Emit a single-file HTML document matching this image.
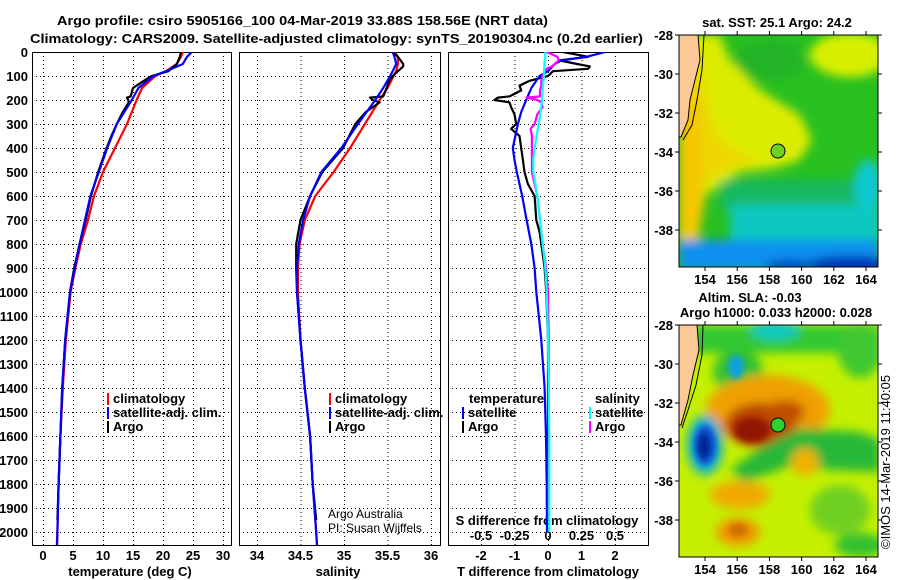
<!DOCTYPE html>
<html><head><meta charset="utf-8"><style>
html,body{margin:0;padding:0;background:#fff;}
svg{display:block;font-family:"Liberation Sans",sans-serif;}
.b{font-weight:bold;font-size:13px;fill:#000;}
.n{font-size:12px;fill:#000;}
</style></head><body>
<svg id="chart" width="900" height="580" viewBox="0 0 900 580" xmlns="http://www.w3.org/2000/svg">
<defs>
<clipPath id="c1"><rect x="32" y="52" width="199" height="493"/></clipPath>
<clipPath id="c2"><rect x="239" y="52" width="201" height="493"/></clipPath>
<clipPath id="c3"><rect x="448" y="52" width="200" height="493"/></clipPath>
<clipPath id="m1"><rect x="679" y="35" width="199" height="232"/></clipPath>
<clipPath id="m2"><rect x="679" y="325" width="199" height="232"/></clipPath>
<filter id="bl" x="-20%" y="-20%" width="140%" height="140%"><feGaussianBlur stdDeviation="5"/></filter>
<filter id="bl2" x="-20%" y="-20%" width="140%" height="140%"><feGaussianBlur stdDeviation="3"/></filter>
</defs>
<text class="b" x="57" y="25" textLength="491" lengthAdjust="spacingAndGlyphs">Argo profile: csiro 5905166_100 04-Mar-2019 33.88S 158.56E (NRT data)</text>
<text class="b" x="30" y="43" textLength="613" lengthAdjust="spacingAndGlyphs">Climatology: CARS2009. Satellite-adjusted climatology: synTS_20190304.nc (0.2d earlier)</text>

<!-- top map -->
<g>
<g clip-path="url(#m1)">
<rect x="679" y="35" width="199" height="232" fill="#28c020"/>
<g filter="url(#bl)">
<ellipse cx="850" cy="55" rx="40" ry="22" fill="#d8f000"/>
<polygon points="690,35 720,35 730,60 760,90 800,115 812,140 800,160 775,168 740,172 720,185 700,200 690,240 679,240 679,35" fill="#dcec00"/>
<polygon points="679,60 700,60 715,130 735,150 760,162 730,168 700,185 695,240 679,240" fill="#ecd800"/>
<polygon points="679,100 700,100 705,200 698,240 679,240" fill="#f4c800"/>
<ellipse cx="770" cy="60" rx="35" ry="20" fill="#20b428"/>
<rect x="720" y="180" width="160" height="30" fill="#18b860"/>
<rect x="730" y="205" width="150" height="35" fill="#10c8c0"/>
<ellipse cx="868" cy="185" rx="14" ry="25" fill="#10c8d0"/>
<rect x="679" y="240" width="200" height="30" fill="#1090f0"/>
<ellipse cx="850" cy="266" rx="45" ry="10" fill="#0030b0"/>
<ellipse cx="790" cy="266" rx="25" ry="6" fill="#0040c0"/>
</g>
<polygon points="679,35 698,35 700,60 695,80 690,100 688,120 681,137 679,137" fill="#fcc898" stroke="#000" stroke-width="1"/>
<polyline points="704,35 702,70 697,100 692,125 683,140" fill="none" stroke="#000" stroke-width="1"/>
<circle cx="778" cy="151" r="7" fill="#70d020" stroke="#000" stroke-width="1"/>
</g>
<rect x="679" y="35" width="199" height="232" fill="none" stroke="#000" stroke-width="1"/>
</g>
<text class="b" x="777" y="27" text-anchor="middle">sat. SST: 25.1 Argo: 24.2</text>

<!-- bottom map -->
<g>
<g clip-path="url(#m2)">
<rect x="679" y="325" width="199" height="232" fill="#c4f000"/>
<g filter="url(#bl)">
<rect x="690" y="325" width="190" height="28" fill="#30c830"/>
<ellipse cx="775" cy="330" rx="25" ry="10" fill="#10c8c0"/>
<ellipse cx="738" cy="372" rx="25" ry="22" fill="#30c030"/>
<ellipse cx="860" cy="350" rx="22" ry="28" fill="#40c830"/>
<ellipse cx="768" cy="410" rx="62" ry="35" fill="#f0a000"/>
<ellipse cx="760" cy="425" rx="35" ry="22" fill="#b84000"/>
<ellipse cx="785" cy="412" rx="20" ry="12" fill="#c05000"/>
<polygon points="730,470 760,448 800,428 860,432 880,440 880,472 830,470 790,466 745,482" fill="#28b838"/>
<ellipse cx="705" cy="445" rx="18" ry="30" fill="#10b0d0"/>
<ellipse cx="740" cy="495" rx="30" ry="14" fill="#f0a800"/>
<ellipse cx="738" cy="532" rx="22" ry="14" fill="#f09800"/>
<ellipse cx="805" cy="462" rx="14" ry="14" fill="#f0b000"/>
<ellipse cx="840" cy="510" rx="30" ry="25" fill="#70d020"/>
<ellipse cx="860" cy="545" rx="25" ry="12" fill="#30c030"/>
</g>
<g filter="url(#bl2)">
<ellipse cx="736" cy="367" rx="8" ry="12" fill="#10a0e0"/>
<ellipse cx="705" cy="445" rx="11" ry="20" fill="#1050d0"/>
<ellipse cx="704" cy="446" rx="6" ry="13" fill="#002090"/>
<ellipse cx="752" cy="430" rx="18" ry="12" fill="#901800"/>
<ellipse cx="738" cy="530" rx="10" ry="7" fill="#d07000"/>
</g>
<polygon points="679,325 697,325 699,350 693,375 688,400 681,425 679,425" fill="#fcc898" stroke="#000" stroke-width="1"/>
<polyline points="703,325 702,355 696,385 688,410 682,428" fill="none" stroke="#000" stroke-width="1"/>
<circle cx="778" cy="425" r="7" fill="#30d030" stroke="#000" stroke-width="1"/>
</g>
<rect x="679" y="325" width="199" height="232" fill="none" stroke="#000" stroke-width="1"/>
</g>
<text class="b" x="750" y="302" text-anchor="middle">Altim. SLA: -0.03</text>
<text class="b" x="776" y="317" text-anchor="middle">Argo h1000: 0.033 h2000: 0.028</text>
<text x="0" y="0" font-size="13" transform="translate(890,549) rotate(-90)">©IMOS 14-Mar-2019 11:40:05</text>
<g id="layer"></g>
</svg>
<script>
// ---- data ----
const depthTicks = [0,100,200,300,400,500,600,700,800,900,1000,1100,1200,1300,1400,1500,1600,1700,1800,1900,2000];
const tempTicks = [0,5,10,15,20,25,30];
const salTicks = [34,34.5,35,35.5,36];
const salTickLabels = ["34","34.5","35","35.5","36"];
const tDiffTicks = [-2,-1,0,1,2];
const sDiffTicks = [-0.5,-0.25,0,0.25,0.5];
const sDiffTickLabels = ["-0.5","-0.25","0","0.25","0.5"];
const latTicks = [-28,-30,-32,-34,-36,-38];
const lonTicks = [154,156,158,160,162,164];

const climDepth = [0,20,50,80,100,150,200,300,400,500,600,700,800,900,1000,1200,1400,1600,1800,2000,2055];
const tempClim = [23.3,23.0,22.3,20.5,18.7,16.5,15.6,14,12,10,8.5,7.5,6.3,5.4,4.6,3.8,3.3,2.9,2.6,2.4,2.3];
const tempSat = [24.8,24.0,23.3,20.5,18.4,15.9,14.8,12.3,10.7,9.3,7.9,7.0,6.1,5.3,4.5,3.7,3.2,2.9,2.6,2.4,2.35];
const salClim = [35.58,35.62,35.62,35.6,35.57,35.5,35.41,35.24,35.07,34.88,34.67,34.55,34.49,34.47,34.47,34.5,34.55,34.61,34.64,34.68,34.69];
const salSat = [35.56,35.58,35.6,35.56,35.53,35.45,35.36,35.16,34.97,34.74,34.61,34.53,34.48,34.46,34.46,34.5,34.55,34.61,34.64,34.68,34.69];

const argoDepth = [0,20,50,60,80,100,120,150,185,190,200,210,250,300,350,400,500,600,700,800,900,1000,1200,1400,1600,1800,1950];
const tempArgo = [23.0,22.8,22.3,21.8,20.9,18.1,16.8,15.0,14.6,14.0,14.2,14.3,13.3,12.3,11.4,10.6,9.2,8.0,7.1,6.1,5.2,4.5,3.7,3.2,2.9,2.6,2.4];
const salArgo = [35.56,35.62,35.68,35.68,35.62,35.56,35.52,35.49,35.45,35.3,35.33,35.41,35.25,35.13,35.06,34.99,34.75,34.61,34.5,34.45,34.45,34.46,34.5,34.55,34.61,34.64,34.68];

const diffDepth = [0,20,35,50,60,70,80,100,120,140,160,185,190,200,210,230,260,300,320,350,400,450,500,550,600,700,750,800,900,1000,1200,1400,1600,1800,1950];
const tDiffArgo = [0.45,1.2,0.35,0.87,1.25,1.2,0.15,0,-0.55,-0.85,-0.8,-1.15,-1.5,-1.6,-1.15,-1.1,-1.0,-0.95,-1.1,-0.85,-0.8,-0.75,-0.7,-0.6,-0.4,-0.35,-0.25,-0.2,-0.1,-0.05,0,0,0,0,0];
const sDiffArgo = [-0.01,0.07,0.08,0.05,0.03,-0.01,-0.02,-0.04,-0.05,-0.05,-0.06,-0.06,-0.16,-0.08,-0.05,-0.04,-0.08,-0.1,-0.13,-0.12,-0.12,-0.12,-0.12,-0.1,-0.08,-0.06,-0.05,-0.04,-0.015,0,0.005,0.005,0.005,0.005,0.005];
const satDepth = [0,20,35,50,80,100,150,200,250,300,400,450,500,600,700,800,900,1000,1200,1400,1600,1800,2000];
const tDiffSat = [1.7,1.15,0.4,0.2,0,-0.25,-0.5,-0.65,-0.8,-0.9,-1.05,-1.0,-0.93,-0.77,-0.64,-0.5,-0.4,-0.35,-0.2,-0.1,-0.06,-0.04,-0.03];
const sDiffSat = [-0.02,-0.02,-0.025,-0.025,-0.03,-0.03,-0.04,-0.045,-0.055,-0.07,-0.1,-0.11,-0.11,-0.08,-0.06,-0.04,-0.02,-0.01,0,0.005,0.01,0.01,0.01];

// ---- scales ----
const NS = "http://www.w3.org/2000/svg";
const layer = document.getElementById('layer');
const yD = d => 52 + d * 0.24;
const xT = t => 43 + 6 * t;
const xS = s => 257 + 87 * (s - 34);
const xDT = t => 548 + 33.5 * t;
const xDS = s => 548 + 134 * s;
const yLat = la => 35 + (-28 - la) * 19.5;
const yLat2 = la => 325 + (-28 - la) * 19.5;
const xLon = lo => 705 + (lo - 154) * 16.1;

function mk(tag, attrs, parent) {
  const e = document.createElementNS(NS, tag);
  for (const k in attrs) e.setAttribute(k, attrs[k]);
  (parent || layer).appendChild(e);
  return e;
}
function txt(x, y, s, anchor, cls, parent) {
  const t = mk('text', {x: x, y: y, 'text-anchor': anchor || 'start', class: cls || 'b'}, parent);
  t.textContent = s;
  return t;
}
function panel(x0, x1, name, clip, gridXs) {
  const g = mk('g', {});
  
  
  const grid = mk('g', {stroke: '#000', 'stroke-width': 1, 'stroke-dasharray': '1,3', 'clip-path': clip}, g);
  depthTicks.forEach(d => { if (d > 0) mk('line', {x1: x0, x2: x1, y1: yD(d) + 0.5, y2: yD(d) + 0.5}, grid); });
  gridXs.forEach(x => mk('line', {x1: x + 0.5, x2: x + 0.5, y1: 52, y2: 545}, grid));
  mk('rect', {x: x0 + 0.5, y: 52.5, width: x1 - x0, height: 493, fill: 'none', stroke: '#000', 'stroke-width': 1}, g);
  return g;
}
function line(g, xs, ds, xf, color, name, clip) {
  const pts = xs.map((v, i) => xf(v).toFixed(1) + ',' + yD(ds[i]).toFixed(1)).join(' ');
  const p = mk('polyline', {points: pts, fill: 'none', stroke: color, 'stroke-width': 2.2, 'stroke-linejoin': 'round', 'clip-path': clip}, g);
  
  
  return p;
}
function legendItem(g, x, y, color, label) {
  const r = mk('rect', {x: x, y: y - 10, width: 2, height: 12, fill: color}, g);
  
  
  const t = txt(x + 6, y, label, 'start', 'b', g);
  
  
}

// depth axis labels
const yAxis = mk('g', {});


depthTicks.forEach(d => {
  const t = txt(28, yD(d) + 5, String(d), 'end', 'b', yAxis);
  
  
});

// Panel 1: temperature
const p1 = panel(32, 231, 'temperature-panel', 'url(#c1)', tempTicks.map(xT));
tempTicks.forEach(t => {
  const l = txt(xT(t), 560, String(t), 'middle', 'b', p1);
  
  
});
const at1 = txt(130, 576, 'temperature (deg C)', 'middle', 'b', p1);


line(p1, tempClim, climDepth, xT, '#ff0000', 'temperature-climatology-line', 'url(#c1)');
line(p1, tempArgo, argoDepth, xT, '#000000', 'temperature-argo-line', 'url(#c1)');
line(p1, tempSat, climDepth, xT, '#0000ff', 'temperature-satellite-line', 'url(#c1)');
legendItem(p1, 107, 403, '#ff0000', 'climatology');
legendItem(p1, 107, 417, '#0000ff', 'satellite-adj. clim.');
legendItem(p1, 107, 431, '#000000', 'Argo');

// Panel 2: salinity
const p2 = panel(239, 440, 'salinity-panel', 'url(#c2)', salTicks.map(xS));
salTicks.forEach((s, i) => {
  const l = txt(xS(s), 560, salTickLabels[i], 'middle', 'b', p2);
  
  
});
const at2 = txt(338, 576, 'salinity', 'middle', 'b', p2);


line(p2, salClim, climDepth, xS, '#ff0000', 'salinity-climatology-line', 'url(#c2)');
line(p2, salArgo, argoDepth, xS, '#000000', 'salinity-argo-line', 'url(#c2)');
line(p2, salSat, climDepth, xS, '#0000ff', 'salinity-satellite-line', 'url(#c2)');
legendItem(p2, 329, 403, '#ff0000', 'climatology');
legendItem(p2, 329, 417, '#0000ff', 'satellite-adj. clim.');
legendItem(p2, 329, 431, '#000000', 'Argo');
const cr1 = txt(328, 518, 'Argo Australia', 'start', 'n', p2);


const cr2 = txt(328, 532, 'PI: Susan Wijffels', 'start', 'n', p2);



// Panel 3: differences
const p3 = panel(448, 648, 'difference-panel', 'url(#c3)', tDiffTicks.map(xDT));
tDiffTicks.forEach(t => {
  const l = txt(xDT(t), 560, String(t), 'middle', 'b', p3);
  
  
});
sDiffTicks.forEach((s, i) => {
  const l = txt(xDS(s), 540, sDiffTickLabels[i], 'middle', 'b', p3);
  
  
});
const at3 = txt(548, 576, 'T difference from climatology', 'middle', 'b', p3);


const at4 = txt(547, 525, 'S difference from climatology', 'middle', 'b', p3);


line(p3, tDiffArgo, diffDepth, xDT, '#000000', 't-diff-argo-line', 'url(#c3)');
line(p3, tDiffSat, satDepth, xDT, '#0000ff', 't-diff-satellite-line', 'url(#c3)');
line(p3, sDiffArgo, diffDepth, xDS, '#ff00ff', 's-diff-argo-line', 'url(#c3)');
line(p3, sDiffSat, satDepth, xDS, '#00ffff', 's-diff-satellite-line', 'url(#c3)');
const lt = txt(469, 403, 'temperature', 'start', 'b', p3);


const ls = txt(595, 403, 'salinity', 'start', 'b', p3);


legendItem(p3, 462, 417, '#0000ff', 'satellite');
legendItem(p3, 462, 431, '#000000', 'Argo');
legendItem(p3, 589, 417, '#00ffff', 'satellite');
legendItem(p3, 589, 431, '#ff00ff', 'Argo');

// Map axes
function mapAxes(yf, top, bottom, name) {
  const g = mk('g', {});
  
  
  latTicks.forEach(la => {
    const y = yf(la);
    mk('line', {x1: 675, x2: 679, y1: y, y2: y, stroke: '#000'}, g);
    mk('line', {x1: 878, x2: 882, y1: y, y2: y, stroke: '#000'}, g);
    const t = txt(673, y + 5, String(la), 'end', 'b', g);
    
    
  });
  lonTicks.forEach(lo => {
    const x = xLon(lo);
    mk('line', {x1: x, x2: x, y1: top - 4, y2: top, stroke: '#000'}, g);
    mk('line', {x1: x, x2: x, y1: bottom, y2: bottom + 4, stroke: '#000'}, g);
    const t = txt(x, bottom + 17, String(lo), 'middle', 'b', g);
    
    
  });
}
mapAxes(yLat, 35, 267, 'sst-map-axes');
mapAxes(yLat2, 325, 557, 'sla-map-axes');
</script>
</body></html>
